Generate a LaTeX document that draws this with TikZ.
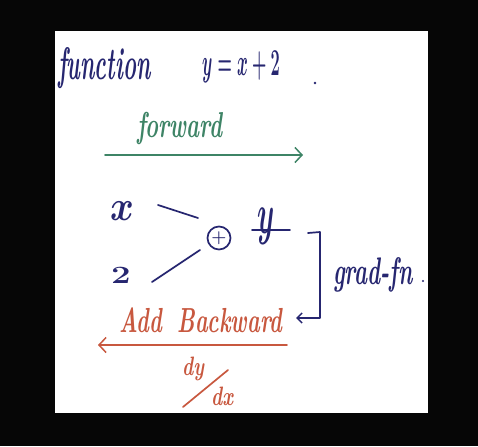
\documentclass[tikz,border=0pt]{standalone}
\usepackage{graphicx}
\usepackage{amsmath}
\usetikzlibrary{arrows.meta}
\definecolor{ink}{RGB}{38,38,112}
\definecolor{grn}{RGB}{62,132,102}
\definecolor{rd}{RGB}{200,88,63}
\definecolor{bg}{RGB}{6,6,6}
\newcommand{\hw}[4]{\fontsize{#1}{#1}\selectfont\bfseries\scalebox{#2}[#3]{#4}}
\tikzset{
  txt/.style={inner sep=0pt, outer sep=0pt, anchor=base west},
  pen/.style={line width=1.7pt, line cap=round, line join=round},
  barb/.style={-{Straight Barb[length=7pt,width=15pt,line width=1.5pt]}},
}
\begin{document}
\begin{tikzpicture}[x=1pt,y=-1pt]
\useasboundingbox (0,0) rectangle (478,446);
\fill[bg] (0,0) rectangle (478,446);
\fill[white] (55,31) rectangle (428,413);

% title
\node[txt, text=ink] (func) at (58,80) {\hw{24}{0.92}{1.9}{\itshape function}};
\node[txt, text=ink] (eq) at (202,76) {\hw{18}{0.95}{2.2}{$\boldsymbol{y = x + 2}$}};
\fill[ink] (315,83) circle (1.3);
\coordinate (eqdot) at (315,83);

% forward
\node[txt, text=grn] (fwd) at (137,138) {\hw{24}{0.92}{1.5}{\itshape forward}};
\coordinate (fa) at (105,155);
\coordinate (fb) at (303,155);
\draw[pen, grn, barb] (fa) -- (fb);

% graph
\node[inner sep=0pt, text=ink] (x) at (122,211) {\hw{24}{1.45}{1.7}{$\boldsymbol{x}$}};
\node[inner sep=0pt, text=ink] (two) at (121,275) {\hw{24}{1.4}{1}{$\boldsymbol{2}$}};
\node[circle, draw=ink, line width=1.7pt, minimum size=23pt, inner sep=0pt, text=ink] (plus) at (219,238) {\fontsize{16}{16}\selectfont$\boldsymbol{+}$};
\node[inner sep=0pt, text=ink] (y) at (266,226) {\hw{24}{1.1}{2.3}{$\boldsymbol{y}$}};
\coordinate (l1a) at (158,205);
\coordinate (l1b) at (198,218);
\coordinate (l2a) at (152,282);
\coordinate (l2b) at (200,250);
\draw[pen, ink] (l1a) -- (l1b);
\draw[pen, ink] (l2a) -- (l2b);
\coordinate (ya) at (252,230);
\coordinate (yb) at (290,230);
\draw[pen, ink] (ya) -- (yb);

% grad_fn bracket
\coordinate (b1) at (308,233);
\coordinate (b2) at (320,232);
\coordinate (b3) at (320,318);
\coordinate (b4) at (296,318);
\draw[pen, ink, -{Straight Barb[length=5pt,width=10pt,line width=1.5pt]}] (b1) -- (b2) -- (b3) -- (b4);
\node[txt, text=ink] (grad) at (333,284) {\hw{24}{0.92}{1.6}{\itshape grad-fn}};
\fill[ink] (423,281) circle (1.1);

% backward
\node[txt, text=rd] (add) at (119,332) {\hw{24}{0.9}{1.45}{\itshape Add\hspace{0.3em} Backward}};
\coordinate (ra) at (287,345);
\coordinate (rb) at (98,345);
\draw[pen, rd, barb] (ra) -- (rb);

% dy/dx
\node[inner sep=0pt, text=rd] (dy) at (193,369) {\hw{19}{1}{1.4}{\itshape dy}};
\node[inner sep=0pt, text=rd] (dx) at (222,396) {\hw{19}{1}{1.4}{\itshape dx}};
\coordinate (sa) at (183,407);
\coordinate (sb) at (228,370);
\draw[pen, rd] (sa) -- (sb);
\end{tikzpicture}
\end{document}
